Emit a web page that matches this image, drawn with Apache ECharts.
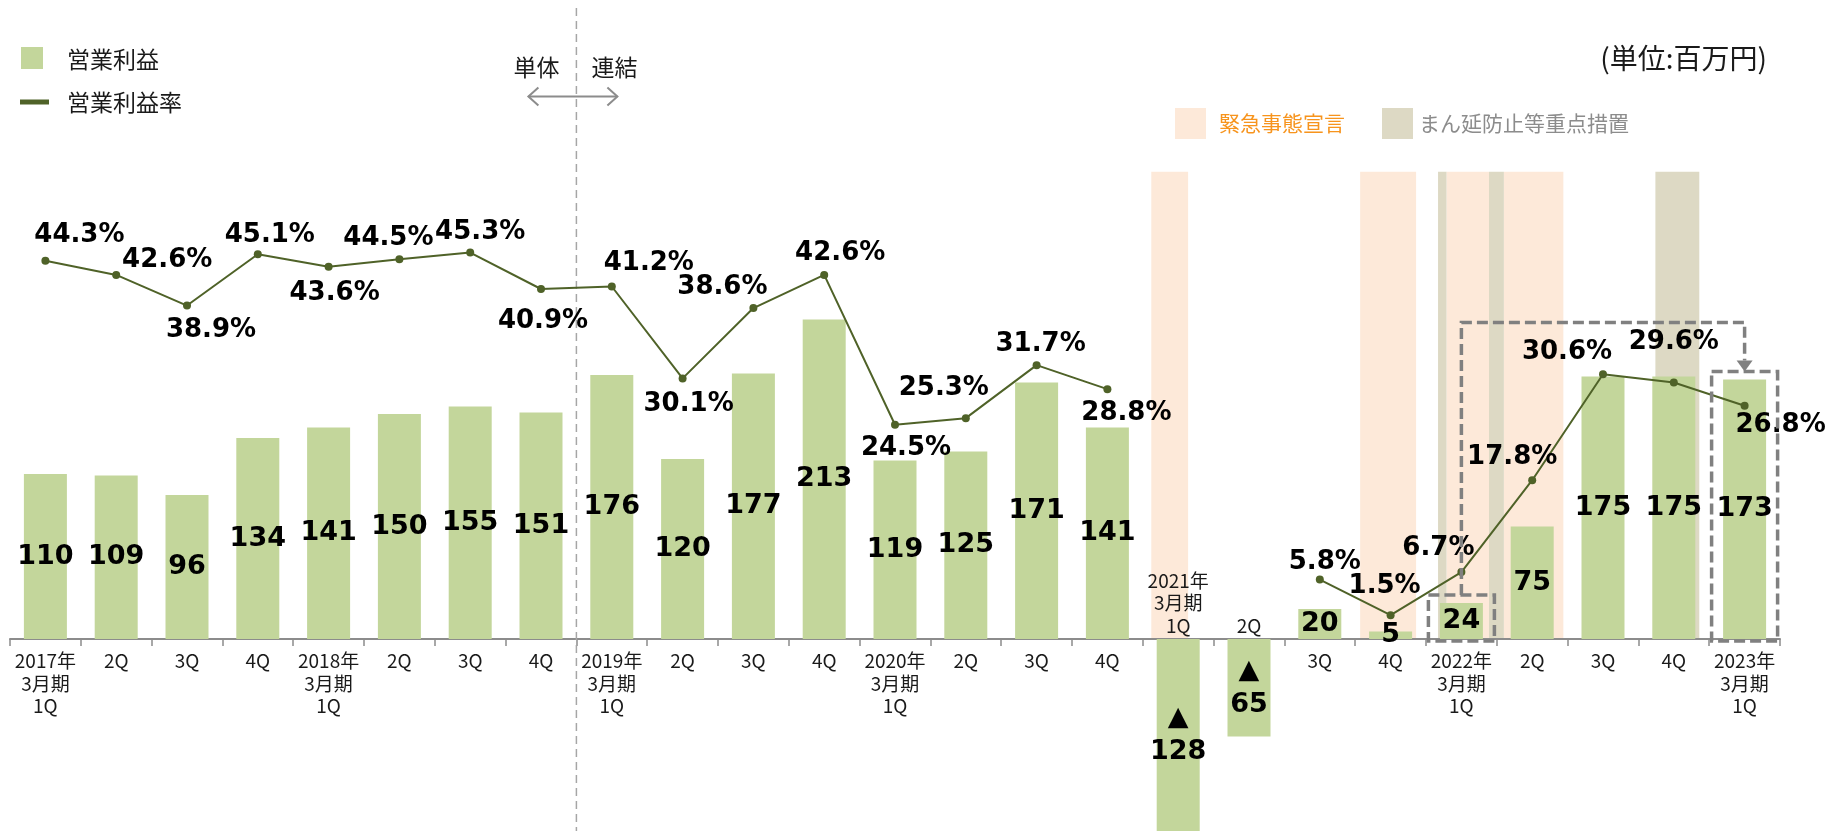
<!DOCTYPE html>
<html lang="ja">

<head>
  <meta charset="UTF-8">
  <title>営業利益・営業利益率</title>
  <script src="https://cdn.jsdelivr.net/npm/echarts@6/dist/echarts.min.js"></script>
  <style>
    html,
    body {
      margin: 0;
      padding: 0;
      width: 100%;
      height: 100%;
      background: #fff;
    }

    #chart {
      width: 1825px;
      height: 831px;
    }
  </style>
</head>

<body>
  <div id="chart"></div>

  <script>
    // 四半期ラベル
    const quarters = [
      '2017年\n3月期\n1Q', '2Q', '3Q', '4Q',
      '2018年\n3月期\n1Q', '2Q', '3Q', '4Q',
      '2019年\n3月期\n1Q', '2Q', '3Q', '4Q',
      '2020年\n3月期\n1Q', '2Q', '3Q', '4Q',
      '2021年\n3月期\n1Q', '2Q', '3Q', '4Q',
      '2022年\n3月期\n1Q', '2Q', '3Q', '4Q',
      '2023年\n3月期\n1Q'
    ];
    // 営業利益 (百万円)
    const profit = [110, 109, 96, 134, 141, 150, 155, 151, 176, 120, 177, 213, 119, 125, 171, 141,
      -128, -65, 20, 5, 24, 75, 175, 175, 173];
    // 営業利益率 (%)  赤字の四半期は空白
    const profitRate = [44.3, 42.6, 38.9, 45.1, 43.6, 44.5, 45.3, 40.9, 41.2, 30.1, 38.6, 42.6, 24.5, 25.3, 31.7, 28.8,
      null, null, 5.8, 1.5, 6.7, 17.8, 30.6, 29.6, 26.8];
    // 軸の上側にラベルを出す四半期 (赤字)
    const labelAbove = [16, 17];
    // 緊急事態宣言の期間 (四半期インデックス単位)
    const emergencyPeriods = [[15.62, 16.14], [18.57, 19.36], [19.79, 20.39], [20.6, 21.44]];
    // まん延防止等重点措置の期間
    const mamboPeriods = [[19.67, 19.79], [20.39, 20.6], [22.74, 23.36]];
    // 点線で囲む四半期 (前年同期 → 当期)
    const highlight = [20, 24];

    // 利益率ラベルの位置ずらし [dx, dy]
    const rateLabelOffset = [[34, -26], [51, -15], [24, 25], [12, -19], [6, 27], [-11, -21], [10, -20], [2, 32],
      [37, -23], [6, 26], [-31, -21], [16, -22], [11, 23], [-22, -30], [4, -21], [19, 24], null, null,
      [5, -17], [-6, -29], [-23, -24], [-20, -23], [-36, -22], [0, -40], [36, 20]];

    const JP = '"Noto Sans CJK JP", "Noto Sans", sans-serif';
    const NUM = '"DejaVu Sans", "Noto Sans CJK JP", sans-serif';
    const BAR_COLOR = '#c3d69b';
    const LINE_COLOR = '#4f6228';

    const chart = echarts.init(document.getElementById('chart'));

    const axisLabelStyle = {
      fontFamily: JP,
      fontSize: 19,
      lineHeight: 22.5,
      color: '#1a1a1a'
    };

    // グリッドの下端を0の位置にし、マイナスの棒は下にはみ出して描く
    const option = {
      animation: false,
      grid: {
        left: 10,
        right: 45,
        top: 150,
        bottom: 192,
        outerBoundsMode: 'none'
      },
      xAxis: [{
          type: 'category',
          data: quarters,
          position: 'bottom',
          axisLine: {
            onZero: false,
            lineStyle: { color: '#8c8c8c', width: 2 }
          },
          axisTick: {
            show: true,
            interval: 0,
            length: 7,
            lineStyle: { color: '#8c8c8c', width: 1.5 }
          },
          axisLabel: Object.assign({
            interval: 0,
            margin: 11,
            formatter: (v, i) => labelAbove.includes(i) ? '' : v
          }, axisLabelStyle)
        },
        {
          // 赤字の四半期は軸の上側にラベル
          type: 'category',
          data: quarters,
          position: 'bottom',
          axisLine: { show: false, onZero: false },
          axisTick: { show: false },
          axisLabel: Object.assign({
            interval: 0,
            inside: true,
            margin: 2,
            formatter: (v, i) => labelAbove.includes(i) ? v : ''
          }, axisLabelStyle)
        }
      ],
      yAxis: [{
          type: 'value',
          min: 0,
          max: 326,
          show: false,
          splitLine: { show: false }
        },
        {
          type: 'value',
          min: -1.38,
          max: 57.69,
          show: false,
          splitLine: { show: false }
        }
      ],
      series: [{
          name: '営業利益',
          type: 'bar',
          data: profit,
          barWidth: 43,
          clip: false,
          z: 2,
          itemStyle: { color: BAR_COLOR },
          label: {
            show: true,
            position: 'inside',
            fontFamily: NUM,
            fontWeight: 'bold',
            fontSize: 27,
            lineHeight: 34,
            color: '#000',
            formatter: p => p.value < 0 ? '▲\n' + (-p.value) : String(p.value)
          }
        },
        {
          name: '営業利益率',
          type: 'line',
          yAxisIndex: 1,
          z: 3,
          data: profitRate.map((v, i) => v == null ? null : {
            value: v,
            label: { offset: rateLabelOffset[i] }
          }),
          connectNulls: false,
          symbol: 'circle',
          symbolSize: 8,
          lineStyle: { color: LINE_COLOR, width: 2 },
          itemStyle: { color: LINE_COLOR },
          label: {
            show: true,
            position: 'inside',
            fontFamily: NUM,
            fontWeight: 'bold',
            fontSize: 26,
            color: '#000',
            formatter: p => p.value.toFixed(1) + '%'
          }
        }
      ]
    };

    chart.setOption(option);

    // 軸の座標から注記 (期間帯・点線枠・凡例など) を配置
    function drawAnnotations() {
      const px = (i, v) => chart.convertToPixel({ xAxisIndex: 0, yAxisIndex: 0 }, [i, v]);
      const w = px(1, 0)[0] - px(0, 0)[0];
      const y0 = px(0, 0)[1];
      const bandTop = px(0, 311.5)[1];
      const xAt = f => {
        const i = Math.round(f);
        return px(i, 0)[0] + (f - i) * w;
      };
      const els = [];

      const band = (periods, color) => periods.forEach(([a, b]) => {
        els.push({
          type: 'rect',
          z: -10,
          shape: { x: xAt(a), y: bandTop, width: xAt(b) - xAt(a), height: y0 - bandTop },
          style: { fill: color }
        });
      });
      band(emergencyPeriods, '#fde9d9');
      band(mamboPeriods, '#ddd9c4');

      // 単体 | 連結 の区切り
      const divX = (px(7, 0)[0] + px(8, 0)[0]) / 2;
      els.push({
        type: 'line',
        z: 1,
        shape: { x1: divX, y1: 8, x2: divX, y2: 831 },
        style: { stroke: '#a6a6a6', lineWidth: 1.5, lineDash: [8, 5] }
      });
      const ay = 96.5;
      els.push({
        type: 'polyline',
        shape: { points: [[divX - 48, ay], [divX + 41, ay]] },
        style: { stroke: '#8c8c8c', lineWidth: 2, fill: null }
      });
      els.push({
        type: 'polyline',
        shape: { points: [[divX - 38, ay - 9], [divX - 48, ay], [divX - 38, ay + 9]] },
        style: { stroke: '#8c8c8c', lineWidth: 2, fill: null }
      });
      els.push({
        type: 'polyline',
        shape: { points: [[divX + 31, ay - 9], [divX + 41, ay], [divX + 31, ay + 9]] },
        style: { stroke: '#8c8c8c', lineWidth: 2, fill: null }
      });
      els.push({
        type: 'text', x: divX - 40, y: 67,
        style: { text: '単体', font: '23px ' + JP, fill: '#1a1a1a', align: 'center', verticalAlign: 'middle' }
      });
      els.push({
        type: 'text', x: divX + 38, y: 67,
        style: { text: '連結', font: '23px ' + JP, fill: '#1a1a1a', align: 'center', verticalAlign: 'middle' }
      });

      // 点線枠と矢印
      const dash = { stroke: '#808080', lineWidth: 3.5, lineDash: [11, 5], fill: null };
      const tops = highlight.map(i => {
        const cx = px(i, 0)[0];
        const top = px(i, profit[i])[1] - 8;
        els.push({
          type: 'rect',
          z: 5,
          shape: { x: cx - 33, y: top, width: 66, height: y0 + 2 - top },
          style: dash
        });
        return [cx, top];
      });
      const yConn = px(0, 211)[1];
      const [a, b] = tops;
      els.push({
        type: 'polyline',
        z: 5,
        shape: { points: [[a[0], a[1]], [a[0], yConn], [b[0], yConn], [b[0], b[1] - 11]] },
        style: dash
      });
      els.push({
        type: 'polygon',
        z: 5,
        shape: { points: [[b[0] - 8, b[1] - 11], [b[0] + 8, b[1] - 11], [b[0], b[1]]] },
        style: { fill: '#808080' }
      });

      // 凡例 (左上)
      els.push({ type: 'rect', shape: { x: 21, y: 47, width: 22, height: 22 }, style: { fill: BAR_COLOR } });
      els.push({
        type: 'text', x: 67, y: 59,
        style: { text: '営業利益', font: '23px ' + JP, fill: '#1a1a1a', verticalAlign: 'middle' }
      });
      els.push({ type: 'rect', shape: { x: 20, y: 99.5, width: 29, height: 5 }, style: { fill: LINE_COLOR } });
      els.push({
        type: 'text', x: 67, y: 102,
        style: { text: '営業利益率', font: '23px ' + JP, fill: '#1a1a1a', verticalAlign: 'middle' }
      });

      // 凡例 (右上)
      els.push({ type: 'rect', shape: { x: 1175, y: 108, width: 31, height: 31 }, style: { fill: '#fde9d9' } });
      els.push({
        type: 'text', x: 1219, y: 123.5,
        style: { text: '緊急事態宣言', font: '21px ' + JP, fill: '#f7941d', verticalAlign: 'middle' }
      });
      els.push({ type: 'rect', shape: { x: 1382, y: 108, width: 31, height: 31 }, style: { fill: '#ddd9c4' } });
      els.push({
        type: 'text', x: 1419, y: 123.5,
        style: { text: 'まん延防止等重点措置', font: '21px ' + JP, fill: '#8c8c8c', verticalAlign: 'middle' }
      });

      els.push({
        type: 'text', x: 1767, y: 58,
        style: { text: '(単位:百万円)', font: '28px ' + JP, fill: '#1a1a1a', align: 'right', verticalAlign: 'middle' }
      });

      chart.setOption({ graphic: { elements: els } });
    }

    drawAnnotations();
  </script>
</body>

</html>
